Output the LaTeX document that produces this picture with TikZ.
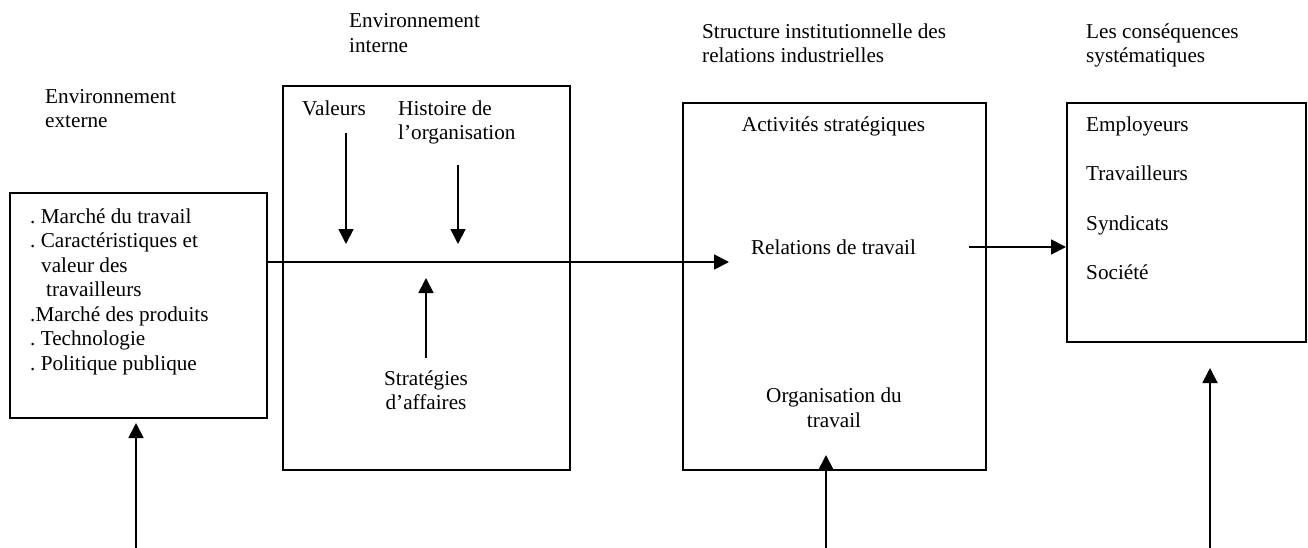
\documentclass[tikz,border=0pt]{standalone}
\usepackage{fontspec}
\setmainfont{Liberation Serif}
\usetikzlibrary{arrows.meta}
\frenchspacing
\begin{document}
\begin{tikzpicture}[x=1pt,y=-1pt,
  every node/.style={font=\fontsize{21.2}{24.4}\selectfont\frenchspacing},
  lt/.style={inner sep=0pt, anchor=base west},
  ct/.style={inner sep=0pt, anchor=base},
  boxnode/.style={draw, line width=1.8pt, inner sep=0pt, anchor=north west},
  arr/.style={line width=1.8pt, -{Triangle[width=15pt,length=15pt]}}]
\useasboundingbox (0,0) rectangle (1308,548);

% boxes
\node[boxnode, minimum width=257pt, minimum height=225pt] (ext) at (9,192) {};
\node[boxnode, minimum width=287pt, minimum height=384pt] (int) at (282,85) {};
\node[boxnode, minimum width=303pt, minimum height=367pt] (inst) at (682,102) {};
\node[boxnode, minimum width=239pt, minimum height=239pt] (csq) at (1066,102) {};

% titles
\node[lt] (ei1) at (349,28) {Environnement};
\node[lt] (ei2) at (349,53) {interne};
\node[lt] (ee1) at (45,104) {Environnement};
\node[lt] (ee2) at (45,128) {externe};
\node[lt] (sir1) at (702,39) {Structure institutionnelle des};
\node[lt] (sir2) at (702,63) {relations industrielles};
\node[lt] (cs1) at (1086,39) {Les conséquences};
\node[lt] (cs2) at (1086,63) {systématiques};

% external list
\node[lt] (l1) at (30,223) {. Marché du travail};
\node[lt] (l2) at (30,247.5) {. Caractéristiques et};
\node[lt] (l3) at (41,272) {valeur des};
\node[lt] (l4) at (46,296.5) {travailleurs};
\node[lt] (l5) at (30,321) {.Marché des produits};
\node[lt] (l6) at (30,345.5) {. Technologie};
\node[lt] (l7) at (30,370) {. Politique publique};

% internal
\node[lt] (val) at (302,116) {Valeurs};
\node[lt] (hist1) at (398,116) {Histoire de};
\node[lt] (hist2) at (398,140) {l’organisation};
\node[ct] (strat1) at (426,385) {Stratégies};
\node[ct] (strat2) at (426,409) {d’affaires};

% institutional
\node[ct] (act) at (833.5,132) {Activités stratégiques};
\node[ct] (rel) at (833.5,254) {Relations de travail};
\node[ct] (org1) at (834,402) {Organisation du};
\node[ct] (org2) at (834,427) {travail};

% consequences
\node[lt] (emp) at (1086,132) {Employeurs};
\node[lt] (trav) at (1086,181) {Travailleurs};
\node[lt] (synd) at (1086,230) {Syndicats};
\node[lt] (soc) at (1086,279) {Société};

% connector points
\coordinate (mainS) at (266,262);
\coordinate (mainE) at (729,262);
\coordinate (valS) at (346,133);
\coordinate (valE) at (346,244);
\coordinate (hisS) at (458,165);
\coordinate (hisE) at (458,244);
\coordinate (strS) at (426,358);
\coordinate (strE) at (426,278);
\coordinate (relS) at (969,247);
\coordinate (relE) at (1066,247);
\coordinate (b1S) at (136,548);
\coordinate (b1E) at (136,423);
\coordinate (b3S) at (826,548);
\coordinate (b3E) at (826,455);
\coordinate (b4S) at (1210,548);
\coordinate (b4E) at (1210,368);

\draw[arr] (mainS) -- (mainE);
\draw[arr] (valS) -- (valE);
\draw[arr] (hisS) -- (hisE);
\draw[arr] (strS) -- (strE);
\draw[arr] (relS) -- (relE);
\draw[arr] (b1S) -- (b1E);
\draw[arr] (b3S) -- (b3E);
\draw[arr] (b4S) -- (b4E);
\end{tikzpicture}
\end{document}
